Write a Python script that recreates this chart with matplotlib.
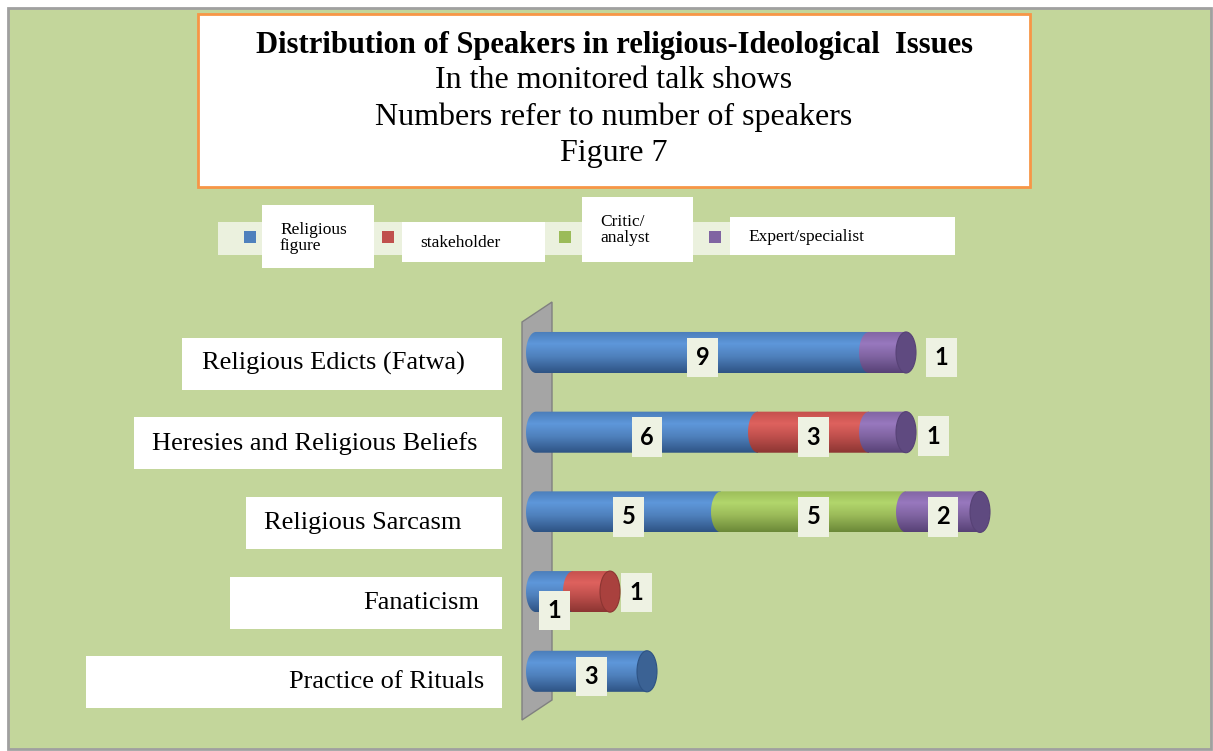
import numpy as np
import matplotlib.pyplot as plt
import matplotlib.transforms as mtransforms
from matplotlib.patches import Rectangle, Ellipse, Polygon, PathPatch
from matplotlib.path import Path
from matplotlib.colors import LinearSegmentedColormap

W, H = 1213, 751

categories = ['Religious Edicts (Fatwa)', 'Heresies and Religious Beliefs',
              'Religious Sarcasm', 'Fanaticism', 'Practice of Rituals']
series = ['Religious\nfigure', 'stakeholder', 'Critic/\nanalyst', 'Expert/specialist']
religious_figure = [9, 6, 5, 1, 3]
stakeholder = [0, 3, 0, 1, 0]
critic_analyst = [0, 0, 5, 0, 0]
expert_specialist = [1, 1, 2, 0, 0]

title_lines = ['Distribution of Speakers in religious-Ideological  Issues',
               'In the monitored talk shows',
               'Numbers refer to number of speakers',
               'Figure 7']

# cylinder shading per series: top, highlight, base, shadow, end cap
shades = [
    ['#4A7CB8', '#5E97DA', '#4F81BD', '#2E5384', '#3B6294'],
    ['#C4504D', '#DE625E', '#C0504D', '#8C3532', '#A9413E'],
    ['#9ABB58', '#B2D66C', '#9BBB59', '#6B8838', '#7E9C45'],
    ['#8064A2', '#9878BE', '#8064A2', '#574276', '#5F4A80'],
]
base_colors = ['#4F81BD', '#C0504D', '#9BBB59', '#8064A2']

plt.rcParams['font.family'] = 'Liberation Serif'


def fx(x):
    return x / W


def fy(y):
    return 1 - y / H


fig = plt.figure(figsize=(W / 100, H / 100), dpi=100)
fig.patch.set_facecolor('white')

# chart area background and frame
fig.patches.append(Rectangle((fx(8), fy(749)), fx(1203), (741) / H, transform=fig.transFigure,
                             facecolor='#C3D69B', edgecolor='#A0A0A0', linewidth=2, zorder=-3))

# title box
fig.patches.append(Rectangle((fx(198), fy(187)), fx(832), 173 / H, transform=fig.transFigure,
                             facecolor='white', edgecolor='#F79646', linewidth=2, zorder=1))
fig.text(fx(614), fy(45), title_lines[0], ha='center', va='center', fontsize=22, fontweight='bold')
for line, yy in zip(title_lines[1:], [80, 117, 153]):
    fig.text(fx(614), fy(yy), line, ha='center', va='center', fontsize=23)

# legend
fig.patches.append(Rectangle((fx(218), fy(255)), fx(737), 33 / H, transform=fig.transFigure,
                             facecolor='#EBF1DE', edgecolor='none', zorder=1))
leg_boxes = [(262, 205, 112, 63), (402, 222, 143, 40), (582, 197, 111, 65), (730, 217, 225, 38)]
leg_marker_x = [250, 388, 565, 715]
for j, name in enumerate(series):
    bx, by, bw, bh = leg_boxes[j]
    fig.patches.append(Rectangle((fx(bx), fy(by + bh)), fx(bw), bh / H, transform=fig.transFigure,
                                 facecolor='white', edgecolor='none', zorder=2))
    fig.patches.append(Rectangle((fx(leg_marker_x[j] - 6), fy(243)), fx(12), 12 / H,
                                 transform=fig.transFigure, facecolor=base_colors[j],
                                 edgecolor='none', zorder=2))
    fig.text(fx(bx + 18), fy(by + bh / 2 + 1), name, ha='left', va='center', fontsize=12.5,
             linespacing=1.0, zorder=3)

# back wall
fig.patches.append(Polygon([(fx(522), fy(322)), (fx(552), fy(302)), (fx(552), fy(700)), (fx(522), fy(720))],
                           closed=True, transform=fig.transFigure, facecolor='#A5A5A5',
                           edgecolor='#808080', linewidth=1, zorder=1))

unit = 37.0
x_lo, x_hi = -0.5, 18
ax = fig.add_axes([fx(536 + x_lo * unit), fy(740), fx((x_hi - x_lo) * unit), 450 / H])
ax.set_zorder(5)
ax.patch.set_alpha(0)
ax.axis('off')

values = [religious_figure, stakeholder, critic_analyst, expert_specialist]
bar_h = 0.515
a = 0.27  # half width of the end ellipses
grad = np.linspace(0, 1, 200).reshape(-1, 1)

label_offsets = {(0, 3): (54, -5), (1, 3): (46, -4), (3, 0): (0, -19), (3, 1): (45, -1)}

for i in range(len(categories)):
    left = 0
    last = None
    for j in range(len(series)):
        v = values[j][i]
        if v == 0:
            continue
        right = left + v
        ts = np.linspace(np.pi / 2, 3 * np.pi / 2, 40)
        verts = [(right, i - bar_h / 2)]
        verts += list(zip(left + a * np.cos(ts), i - bar_h / 2 * np.sin(ts)))
        verts += [(right, i + bar_h / 2), (right, i - bar_h / 2)]
        clip = PathPatch(Path(verts), transform=ax.transData, facecolor='none', edgecolor='none')
        cmap = LinearSegmentedColormap.from_list('c%d' % j, list(zip([0, 0.3, 0.6, 1.0], shades[j][:4])))
        im = ax.imshow(grad, cmap=cmap, extent=(left - a, right, i + bar_h / 2, i - bar_h / 2),
                       aspect='auto', interpolation='bilinear', zorder=2)
        im.set_clip_path(clip)
        dx, dy = label_offsets.get((i, j), (0, -5))
        ax.annotate(str(v), (left + v / 2, i), xytext=(dx, dy), textcoords='offset pixels',
                    ha='center', va='center', fontsize=17, fontweight='bold', family='Lato',
                    bbox=dict(boxstyle='square,pad=0.35', facecolor='#EEF2E3', edgecolor='none'),
                    zorder=6, annotation_clip=False)
        left = right
        last = j
    ax.add_patch(Ellipse((left, i), 2 * a, bar_h, facecolor=shades[last][4],
                         edgecolor=shades[last][3], linewidth=0.8, zorder=3))

# category labels in white boxes
blend = mtransforms.blended_transform_factory(fig.transFigure, ax.transData)
box_left = [182, 134, 246, 230, 86]
text_right = [465, 478, 462, 479, 484]
for i, cat in enumerate(categories):
    ax.add_patch(Rectangle((fx(box_left[i]), i + 0.14 - 0.326), fx(502 - box_left[i]), 0.652,
                           transform=blend, facecolor='white', edgecolor='none', clip_on=False))
    ax.text(fx(text_right[i]), i + 0.14, cat, transform=blend, ha='right', va='center',
            fontsize=19, clip_on=False)

ax.set_xlim(x_lo, x_hi)
ax.set_ylim(4.862, -0.784)

fig.savefig('out.png', dpi=100, facecolor=fig.get_facecolor())
